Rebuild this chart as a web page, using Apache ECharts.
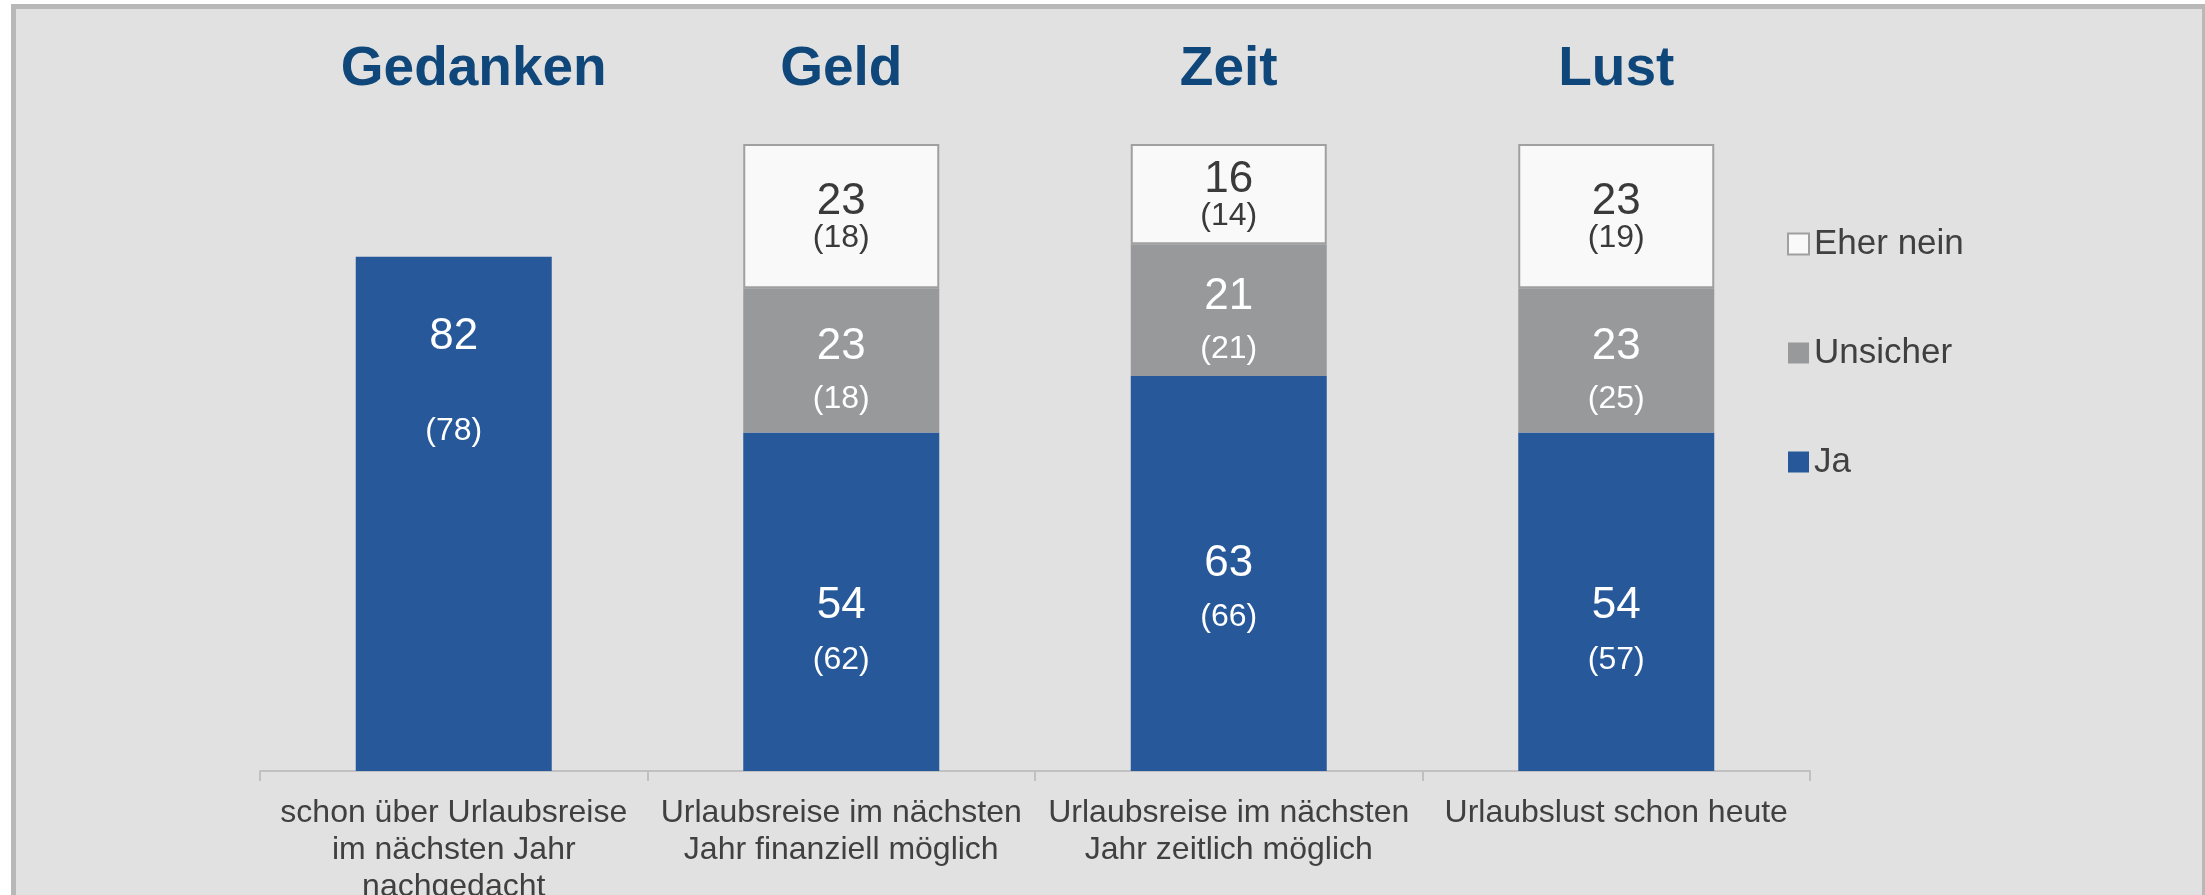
<!DOCTYPE html>
<html>
<head>
<meta charset="utf-8">
<script src="https://cdn.jsdelivr.net/npm/echarts@6/dist/echarts.min.js"></script>
<style>
html, body { margin: 0; padding: 0; background: #ffffff; overflow: hidden; }
#frame {
  position: absolute;
  left: 11px;
  top: 4px;
  width: 2186px;
  height: 1000px;
  border: 5px solid #b8b8b8;
  background-color: #e0e1e0;
}
#main {
  position: absolute;
  left: 0;
  top: 0;
  width: 2205px;
  height: 895px;
}
</style>
</head>
<body>
<div id="frame"></div>
<div id="main"></div>
<script>
// Kategorien (unten) und Stichworte (oben)
var categories = [
  "schon über Urlaubsreise\nim nächsten Jahr\nnachgedacht",
  "Urlaubsreise im nächsten\nJahr finanziell möglich",
  "Urlaubsreise im nächsten\nJahr zeitlich möglich",
  "Urlaubslust schon heute"
];
var topics = ["Gedanken", "Geld", "Zeit", "Lust"];

// aktuelle Werte und Vorjahr (in Klammern)
var ja = [82, 54, 63, 54];
var jaPrev = [78, 62, 66, 57];
var unsicher = [null, 23, 21, 23];
var unsicherPrev = [null, 18, 21, 25];
var eherNein = [null, 23, 16, 23];
var eherNeinPrev = [null, 18, 14, 19];

var FONT = "'Liberation Sans', Arial, sans-serif";

function richFor(color, lhA, lhB) {
  return {
    a: { fontFamily: FONT, fontSize: 44, color: color, lineHeight: lhA },
    b: { fontFamily: FONT, fontSize: 32, color: color, lineHeight: lhB }
  };
}

function labelText(prev) {
  return function (p) {
    if (p.value == null) return "";
    return "{a|" + p.value + "}\n{b|(" + prev[p.dataIndex] + ")}";
  };
}

// erster Balken: Beschriftung oben im Balken, weiter auseinander
// dritter Balken: Beschriftung etwas höher
var jaData = ja.map(function (v, i) {
  if (i === 0) {
    return {
      value: v,
      label: {
        position: "insideTop",
        distance: 33,
        offset: [0, 0],
        rich: richFor("#ffffff", 94, 94)
      }
    };
  }
  if (i === 2) {
    return { value: v, label: { offset: [0, 14] } };
  }
  return v;
});

var Chart = echarts.init(document.getElementById("main"));
Chart.setOption({
  backgroundColor: "transparent",
  animation: false,
  grid: {
    left: 260,
    right: 395,
    top: 144,
    bottom: 124,
    outerBoundsMode: "none"
  },
  legend: {
    orient: "vertical",
    left: 1782,
    top: 221,
    itemWidth: 21,
    itemHeight: 21,
    itemGap: 73,
    icon: "rect",
    data: ["Eher nein", "Unsicher", "Ja"],
    textStyle: {
      fontFamily: FONT,
      fontSize: 35,
      lineHeight: 36,
      color: "#404040"
    }
  },
  xAxis: [
    {
      type: "category",
      data: categories,
      axisLine: { lineStyle: { color: "#c0c0c0", width: 2 } },
      axisTick: { show: true, length: 10, lineStyle: { color: "#c0c0c0", width: 2 } },
      axisLabel: {
        interval: 0,
        margin: 24,
        fontFamily: FONT,
        fontSize: 32,
        lineHeight: 37,
        color: "#404040"
      }
    },
    {
      type: "category",
      position: "top",
      data: topics,
      axisLine: { show: false },
      axisTick: { show: false },
      axisLabel: {
        interval: 0,
        margin: 44,
        fontFamily: FONT,
        fontSize: 55,
        fontWeight: "bold",
        lineHeight: 60,
        color: "#0f477a",
        formatter: function (v, i) {
          return i === 0 ? "{off|" + v + "}" : v;
        },
        rich: {
          off: {
            padding: [0, 0, 0, 40],
            fontFamily: FONT,
            fontSize: 55,
            fontWeight: "bold",
            lineHeight: 60,
            color: "#0f477a"
          }
        }
      }
    }
  ],
  yAxis: {
    type: "value",
    min: 0,
    max: 100,
    show: false,
    splitLine: { show: false }
  },
  series: [
    {
      name: "Ja",
      type: "bar",
      stack: "s",
      barWidth: 196,
      data: jaData,
      itemStyle: { color: "#26589a" },
      label: {
        show: true,
        position: "inside",
        offset: [0, 28],
        formatter: labelText(jaPrev),
        rich: richFor("#ffffff", 60, 48)
      }
    },
    {
      name: "Unsicher",
      type: "bar",
      stack: "s",
      barWidth: 196,
      data: unsicher,
      itemStyle: { color: "#98999b" },
      label: {
        show: true,
        position: "inside",
        offset: [0, 10],
        formatter: labelText(unsicherPrev),
        rich: richFor("#ffffff", 58, 46)
      }
    },
    {
      name: "Eher nein",
      type: "bar",
      stack: "s",
      barWidth: 196,
      data: eherNein,
      itemStyle: { color: "#f9f9f9", borderColor: "#a0a0a0", borderWidth: 2 },
      label: {
        show: true,
        position: "inside",
        offset: [0, 2],
        formatter: labelText(eherNeinPrev),
        rich: richFor("#3a3a3a", 40, 32)
      }
    }
  ]
});
</script>
</body>
</html>
